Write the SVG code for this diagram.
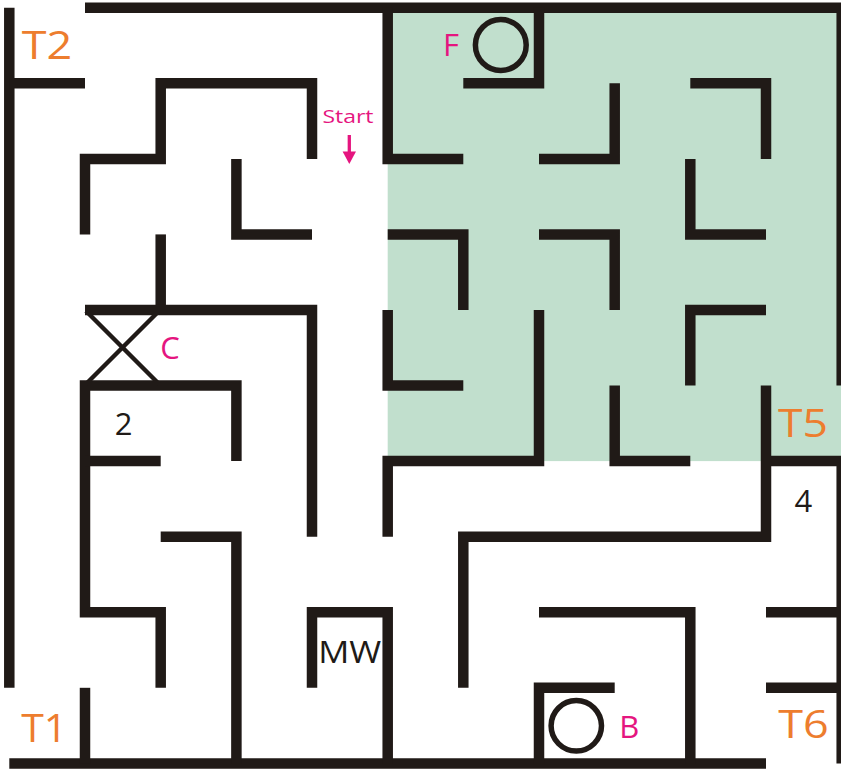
<svg xmlns="http://www.w3.org/2000/svg" width="841" height="769" viewBox="0 0 841 769">
<style>
.w{fill:none;stroke:#201a17;stroke-width:10.5;stroke-linecap:butt;stroke-linejoin:miter}
.x{fill:none;stroke:#201a17;stroke-width:4.5}
.ring{fill:none;stroke:#201a17;stroke-width:5.5}
.t{font-family:"Open Sans","Liberation Sans",sans-serif;fill:#ed7d2e;font-size:37.5px;text-anchor:middle}
.m{font-family:"Open Sans","Liberation Sans",sans-serif;fill:#e5157f;font-size:31px;text-anchor:middle}
.k{font-family:"Open Sans","Liberation Sans",sans-serif;fill:#201a17;font-size:31px;text-anchor:middle}
</style>
<rect width="841" height="769" fill="#ffffff"/>
<rect id="zone" x="387.7" y="7.7" width="454" height="453.4" fill="#c1dfcd"/>
<g id="walls">
<polyline class="w" points="85,7.7 841.7,7.7 841.7,385.6"/>
<polyline class="w" points="9.3,7.7 9.3,687.8"/>
<polyline class="w" points="9.3,763.4 766,763.4"/>
<polyline class="w" points="766,461.1 841.7,461.1 841.7,763.4"/>
<polyline class="w" points="9.3,83.3 85,83.3"/>
<polyline class="w" points="85,234.4 85,158.9 160.7,158.9 160.7,83.3 312,83.3 312,158.9"/>
<polyline class="w" points="236.4,158.9 236.4,234.4 312,234.4"/>
<polyline class="w" points="160.7,234.4 160.7,310"/>
<polyline class="w" points="85,310 312,310 312,536.7"/>
<polyline class="w" points="236.4,461.1 236.4,385.6 85,385.6 85,612.3 160.7,612.3 160.7,687.8"/>
<polyline class="w" points="85,461.1 160.7,461.1"/>
<polyline class="w" points="160.7,536.7 236.4,536.7 236.4,763.4"/>
<polyline class="w" points="312,687.8 312,612.3 387.7,612.3 387.7,763.4"/>
<polyline class="w" points="85,687.8 85,763.4"/>
<polyline class="w" points="463.3,158.9 387.7,158.9 387.7,7.7"/>
<polyline class="w" points="463.3,83.3 539,83.3 539,7.7"/>
<polyline class="w" points="539,158.9 614.7,158.9 614.7,83.3"/>
<polyline class="w" points="690.3,83.3 766,83.3 766,158.9"/>
<polyline class="w" points="690.3,158.9 690.3,234.4 766,234.4"/>
<polyline class="w" points="387.7,234.4 463.3,234.4 463.3,310"/>
<polyline class="w" points="539,234.4 614.7,234.4 614.7,310"/>
<polyline class="w" points="766,310 690.3,310 690.3,385.6"/>
<polyline class="w" points="387.7,310 387.7,385.6 463.3,385.6"/>
<polyline class="w" points="539,310 539,461.1 387.7,461.1 387.7,536.7"/>
<polyline class="w" points="614.7,385.6 614.7,461.1 690.3,461.1"/>
<polyline class="w" points="766,385.6 766,536.7 463.3,536.7 463.3,687.8"/>
<polyline class="w" points="539,612.3 690.3,612.3 690.3,763.4"/>
<polyline class="w" points="614.7,687.8 539,687.8 539,763.4"/>
<polyline class="w" points="766,612.3 841.7,612.3"/>
<polyline class="w" points="766,687.8 841.7,687.8"/>
<line class="x" x1="86" y1="311" x2="159" y2="384"/>
<line class="x" x1="159" y1="311" x2="86" y2="384"/>
</g>
<g id="start">
<text x="348" y="122.7" font-family="Open Sans, Liberation Sans, sans-serif" font-size="19" fill="#e5157f" text-anchor="middle" textLength="51" lengthAdjust="spacingAndGlyphs">Start</text>
<line x1="349.3" y1="135" x2="349.3" y2="153" stroke="#e5157f" stroke-width="3.3"/>
<polygon points="342.6,151.5 356,151.5 349.3,164" fill="#e5157f"/>
</g>
<g id="nodeF">
<circle class="ring" cx="500.8" cy="45" r="25.4"/>
<text class="m" x="451" y="56">F</text>
</g>
<g id="nodeB">
<circle class="ring" cx="576.3" cy="725.8" r="25.2"/>
<text class="m" x="629.3" y="737.7">B</text>
</g>
<g id="nodeC"><text class="m" x="170" y="358.5">C</text></g>
<g id="label2"><text class="k" x="123.5" y="435">2</text></g>
<g id="label4"><text class="k" x="803.3" y="511.7">4</text></g>
<g id="labelMW"><text class="k" x="349.7" y="662.7" textLength="63" lengthAdjust="spacingAndGlyphs">MW</text></g>
<g id="T2"><text class="t" x="47" y="59" textLength="50.5" lengthAdjust="spacingAndGlyphs">T2</text></g>
<g id="T1"><text class="t" x="44.3" y="741.7" textLength="46" lengthAdjust="spacingAndGlyphs">T1</text></g>
<g id="T5"><text class="t" x="803" y="436.7" textLength="50" lengthAdjust="spacingAndGlyphs">T5</text></g>
<g id="T6"><text class="t" x="803.5" y="738.3" textLength="50.5" lengthAdjust="spacingAndGlyphs">T6</text></g>
</svg>
